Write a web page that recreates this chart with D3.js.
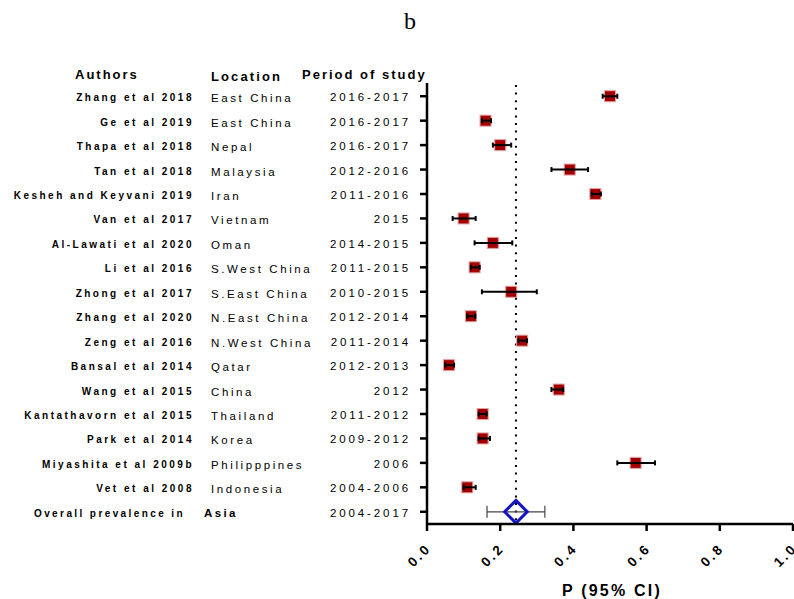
<!DOCTYPE html>
<html><head><meta charset="utf-8">
<script src="https://cdn.jsdelivr.net/npm/d3@7"></script>
<style>body{margin:0;background:#fff}svg{display:block}text{font-family:"Liberation Sans",Arial,sans-serif}</style>
</head><body><svg id="c" width="794" height="599"></svg>
<script>
const authors = ["Zhang et al 2018","Ge et al 2019","Thapa et al 2018","Tan et al 2018","Kesheh and Keyvani 2019","Van et al 2017","Al-Lawati et al 2020","Li et al 2016","Zhong et al 2017","Zhang et al 2020","Zeng et al 2016","Bansal et al 2014","Wang et al 2015","Kantathavorn et al 2015","Park et al 2014","Miyashita et al 2009b","Vet et al 2008"];
const locations = ["East China","East China","Nepal","Malaysia","Iran","Vietnam","Oman","S.West China","S.East China","N.East China","N.West China","Qatar","China","Thailand","Korea","Philipppines","Indonesia"];
const periods = ["2016-2017","2016-2017","2016-2017","2012-2016","2011-2016","2015","2014-2015","2011-2015","2010-2015","2012-2014","2011-2014","2012-2013","2012","2011-2012","2009-2012","2006","2004-2006"];
const estimate = [0.50,0.16,0.20,0.39,0.46,0.10,0.18,0.13,0.23,0.12,0.26,0.06,0.36,0.152,0.152,0.57,0.11];
const lower    = [0.48,0.15,0.18,0.34,0.45,0.07,0.13,0.12,0.15,0.11,0.25,0.05,0.34,0.141,0.141,0.52,0.10];
const upper    = [0.52,0.175,0.23,0.44,0.475,0.133,0.233,0.144,0.30,0.132,0.273,0.074,0.372,0.163,0.172,0.623,0.133];
const overallLabel = ["Overall prevalence in","Asia","2004-2017"];
const overall = {est:0.243, lo:0.164, hi:0.322};
const headers = ["Authors","Location","Period of study"];
const xTicks = [0,0.2,0.4,0.6,0.8,1.0];
const xTitle = "P (95% CI)";

const svg = d3.select("#c");
const x = d3.scaleLinear().domain([0,1]).range([427,793]);
const rows = authors.concat([overallLabel[0]]);
const y = d3.scaleBand().domain(d3.range(rows.length)).range([84,524]);
const yc = i => y(i) + y.bandwidth()/2;

// title
svg.append("text").attr("x",410).attr("y",29).attr("text-anchor","middle")
  .style("font-family","'Liberation Serif','Times New Roman',serif").style("font-size","24px").text("b");

// headers
const hx = [75,211,302], hy=[79,81,79], hls=[2,2.1,2];
headers.forEach((h,i)=>svg.append("text").attr("x",hx[i]).attr("y",hy[i])
  .style("font-weight","bold").style("font-size","13px").style("letter-spacing",hls[i]+"px").text(h));

// row labels
const g = svg.append("g");
authors.forEach((a,i)=>{
  g.append("text").attr("x",194).attr("y",yc(i)+5).attr("text-anchor","end")
   .style("font-weight","bold").style("font-size","10px").style("letter-spacing","2.5px").text(a);
  g.append("text").attr("x",211).attr("y",yc(i)+6).style("font-size","11.5px").style("letter-spacing","2.6px").text(locations[i]);
  g.append("text").attr("x",411).attr("y",yc(i)+5).attr("text-anchor","end")
   .style("font-size","11.5px").style("letter-spacing","2.9px").text(periods[i]);
});
const oi = rows.length-1;
g.append("text").attr("x",185).attr("y",yc(oi)+5).attr("text-anchor","end")
  .style("font-weight","bold").style("font-size","10px").style("letter-spacing","2.4px").text(overallLabel[0]);
g.append("text").attr("x",204).attr("y",yc(oi)+5).style("font-weight","bold").style("font-size","11.5px").style("letter-spacing","2.4px").text(overallLabel[1]);
g.append("text").attr("x",411).attr("y",yc(oi)+5).attr("text-anchor","end")
  .style("font-size","11.5px").style("letter-spacing","2.9px").text(overallLabel[2]);

// reference dotted line
svg.append("line").attr("x1",x(overall.est)).attr("x2",x(overall.est)).attr("y1",85).attr("y2",524)
  .attr("stroke","#000").attr("stroke-width",2).attr("stroke-dasharray","2,5.6");

// study markers
const m = svg.append("g");
estimate.forEach((e,i)=>{
  const cy = yc(i);
  m.append("rect").attr("x",x(e)-5.5).attr("y",cy-5.5).attr("width",11).attr("height",11)
    .attr("fill","#a00000").attr("stroke","#e6a0a0").attr("stroke-width",1);
  m.append("line").attr("x1",x(lower[i])).attr("x2",x(upper[i])).attr("y1",cy).attr("y2",cy).attr("stroke","#000").attr("stroke-width",2);
  [lower[i],upper[i]].forEach(v=>m.append("line").attr("x1",x(v)).attr("x2",x(v)).attr("y1",cy-2.5).attr("y2",cy+2.5).attr("stroke","#000").attr("stroke-width",2));
});

// overall
const ocy = yc(oi);
m.append("line").attr("x1",x(overall.lo)).attr("x2",x(overall.hi)).attr("y1",ocy).attr("y2",ocy).attr("stroke","#444").attr("stroke-width",1.2);
[overall.lo,overall.hi].forEach(v=>m.append("line").attr("x1",x(v)).attr("x2",x(v)).attr("y1",ocy-6).attr("y2",ocy+6).attr("stroke","#444").attr("stroke-width",1.2));
const ox = x(overall.est), hw=11.3;
m.append("path").attr("d",`M${ox-hw},${ocy}L${ox},${ocy-hw}L${ox+hw},${ocy}L${ox},${ocy+hw}Z`)
  .attr("fill","none").attr("stroke","#1212c8").attr("stroke-width",3);

// axes
const yAxis = svg.append("g").attr("transform","translate(427,0)")
  .call(d3.axisLeft(y).tickSize(7).tickFormat("").tickSizeOuter(0).offset(0));
yAxis.select(".domain").attr("d","M0,83V524").attr("stroke-width",2.5);
yAxis.selectAll(".tick line").attr("stroke-width",2.5).attr("x1",0);
const xAxis = svg.append("g").attr("transform","translate(0,524)")
  .call(d3.axisBottom(x).tickValues(xTicks).tickSize(7).tickSizeOuter(0).tickFormat(d3.format(".1f")).offset(0));
xAxis.select(".domain").attr("stroke-width",2.5).attr("d","M426,0H793");
xAxis.selectAll(".tick line").attr("stroke-width",2.5);
xAxis.selectAll(".tick text").attr("text-anchor","end").attr("dy",0).attr("y",0)
  .attr("transform","translate(5,25) rotate(-45)")
  .style("font-weight","bold").style("font-size","13.5px").style("letter-spacing","2.6px").style("font-family","'Liberation Sans',Arial,sans-serif").attr("fill","#000");

svg.append("text").attr("x",612).attr("y",596).attr("text-anchor","middle")
  .style("font-weight","bold").style("font-size","16px").style("letter-spacing","2.2px").text(xTitle);
</script></body></html>
